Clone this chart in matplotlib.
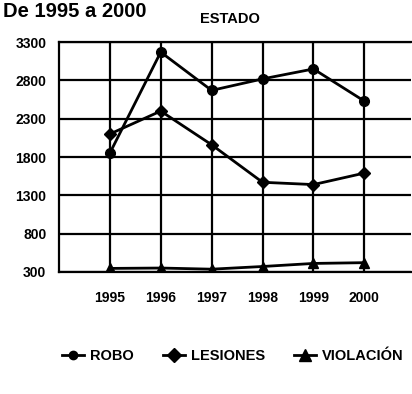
import matplotlib
matplotlib.use("Agg")
import matplotlib.pyplot as plt
from matplotlib.lines import Line2D

years = [1995, 1996, 1997, 1998, 1999, 2000]
robo = [1850, 3170, 2670, 2820, 2950, 2530]
lesiones = [2100, 2400, 1960, 1470, 1440, 1590]
violacion = [345, 350, 335, 370, 410, 420]
yticks = [300, 800, 1300, 1800, 2300, 2800, 3300]

plt.rcParams['font.family'] = ['Liberation Sans', 'DejaVu Sans']
plt.rcParams['font.weight'] = 'bold'

fig = plt.figure(figsize=(4.12, 3.94), dpi=100)
ax = fig.add_axes([0.143, 0.31, 0.855, 0.583])

ax.plot(years, robo, color='black', lw=2, marker='o', ms=7)
ax.plot(years, lesiones, color='black', lw=2, marker='D', ms=6.5)
ax.plot(years, violacion, color='black', lw=2, marker='^', ms=7)

ax.set_xlim(1994, 2000.92)
ax.set_ylim(300, 3300)
ax.set_xticks(years)
ax.set_yticks(yticks)
ax.set_xticklabels([str(y) for y in years], fontsize=10, fontweight='bold')
ax.set_yticklabels([str(v) for v in yticks], fontsize=10, fontweight='bold')
ax.grid(True, color='black', lw=1.6)
ax.tick_params(length=0, pad=9)
ax.tick_params(axis='x', pad=14)
for s in ax.spines.values():
    s.set_linewidth(1.6)
ax.spines['right'].set_visible(False)

fig.text(0.008, 0.97, 'De 1995 a 2000', fontsize=14.5, fontweight='bold',
         va='center', ha='left')
fig.text(0.558, 0.953, 'ESTADO', fontsize=10.5, fontweight='bold',
         va='center', ha='center')

handles = [
    Line2D([], [], color='black', lw=2, marker='o', ms=6),
    Line2D([], [], color='black', lw=2, marker='D', ms=7),
    Line2D([], [], color='black', lw=2, marker='^', ms=8),
]
fig.legend(handles, ['ROBO', 'LESIONES', 'VIOLACIÓN'], loc='center',
           bbox_to_anchor=(0.565, 0.097), ncol=3, frameon=False,
           handlelength=1.5, handletextpad=0.4, columnspacing=2.0,
           prop={'weight': 'bold', 'size': 10.5})

fig.savefig('out.png', dpi=100)
